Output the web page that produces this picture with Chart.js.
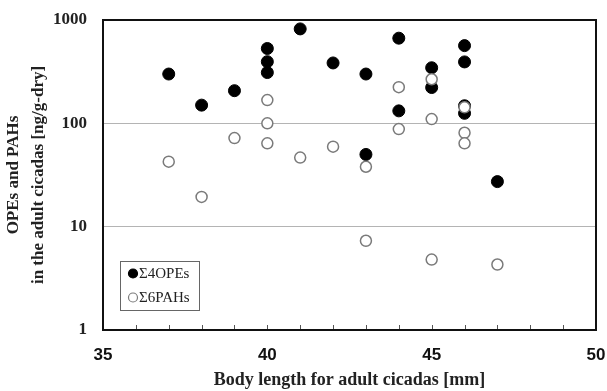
<!DOCTYPE html>
<html>
<head>
<meta charset="utf-8">
<script src="https://cdn.jsdelivr.net/npm/chart.js@4"></script>
<style>
  html, body { margin: 0; padding: 0; background: #fff; }
  #wrap { width: 607px; height: 391px; position: relative; }
</style>
</head>
<body>
<div id="wrap"><canvas id="cicadaChart"></canvas></div>
<script>
// ===== DATA: body length (mm) vs concentration (ng/g-dry) =====
const opeLengths = [37, 38, 39, 40, 40, 40, 41, 42, 43, 43, 44, 44, 45, 45, 46, 46, 46, 46, 47];
const opeValues  = [300, 150, 207, 530, 395, 310, 820, 384, 300, 50, 667, 132, 345, 222, 565, 393, 148, 125, 27.3];

const pahLengths = [37, 38, 39, 40, 40, 40, 41, 42, 43, 43, 44, 44, 45, 45, 45, 46, 46, 46, 47];
const pahValues  = [42.6, 19.4, 72, 168, 100, 64, 46.6, 59.5, 38, 7.3, 224, 88, 267, 110, 4.8, 143, 81, 64, 4.3];

const yTickLabels = [1, 10, 100, 1000];
const xTickLabels = [35, 40, 45, 50];

const seriesLabels = ["\u03A34OPEs", "\u03A36PAHs"];

const toPoints = (xs, ys) => xs.map((x, i) => ({ x: x, y: ys[i] }));

// frame around plot area + inward minor ticks on x axis
const framePlugin = {
  id: "frame",
  beforeDatasetsDraw(chart) {
    const { ctx, chartArea: a, scales } = chart;
    ctx.save();
    ctx.strokeStyle = "#555";
    ctx.lineWidth = 1;
    scales.x.ticks.forEach(t => {
      const px = Math.round(scales.x.getPixelForValue(t.value)) + 0.5;
      ctx.beginPath();
      ctx.moveTo(px, a.bottom);
      ctx.lineTo(px, a.bottom - 5);
      ctx.stroke();
    });
    ctx.strokeStyle = "#111";
    ctx.lineWidth = 2;
    ctx.strokeRect(a.left, a.top, a.right - a.left, a.bottom - a.top);
    ctx.restore();
  }
};

// boxed legend inside the lower-left of the plot
const boxLegendPlugin = {
  id: "boxLegend",
  afterDatasetsDraw(chart) {
    const { ctx, chartArea: a } = chart;
    const x0 = a.left + 17, y0 = a.bottom - 69, w = 79, h = 49;
    ctx.save();
    ctx.fillStyle = "#fff";
    ctx.fillRect(x0, y0, w, h);
    ctx.strokeStyle = "#666";
    ctx.lineWidth = 1;
    ctx.strokeRect(x0 + 0.5, y0 + 0.5, w, h);
    ctx.font = "15px 'Liberation Serif', serif";
    ctx.textBaseline = "middle";
    chart.data.datasets.forEach((ds, i) => {
      const cy = y0 + 12.5 + i * 24;
      ctx.beginPath();
      ctx.arc(x0 + 13, cy, 4.5, 0, Math.PI * 2);
      ctx.fillStyle = ds.backgroundColor;
      ctx.fill();
      ctx.strokeStyle = ds.borderColor;
      ctx.lineWidth = 1.2;
      ctx.stroke();
      ctx.fillStyle = "#222";
      ctx.fillText(ds.label, x0 + 19, cy + 1);
    });
    ctx.restore();
  }
};

const ctx = document.getElementById("cicadaChart").getContext("2d");

new Chart(ctx, {
  type: "scatter",
  data: {
    datasets: [
      {
        label: seriesLabels[0],
        data: toPoints(opeLengths, opeValues),
        backgroundColor: "#000",
        borderColor: "#000",
        borderWidth: 1,
        pointRadius: 6,
        order: 2
      },
      {
        label: seriesLabels[1],
        data: toPoints(pahLengths, pahValues),
        backgroundColor: "#fff",
        borderColor: "#7a7a7a",
        borderWidth: 1.5,
        pointRadius: 5.5,
        order: 1
      }
    ]
  },
  options: {
    responsive: true,
    maintainAspectRatio: false,
    animation: false,
    layout: { padding: { top: 20, right: 11, left: 0, bottom: 0 } },
    plugins: {
      legend: { display: false },
      tooltip: { enabled: false }
    },
    scales: {
      x: {
        type: "linear",
        min: 35,
        max: 50,
        afterFit: s => { s.height = 61; s.paddingLeft = 0; s.paddingRight = 0; },
        grid: { display: false, drawTicks: false },
        border: { display: false },
        ticks: {
          stepSize: 1,
          autoSkip: false,
          maxRotation: 0,
          padding: 15,
          color: "#111",
          font: { family: "'Liberation Sans', Arial, sans-serif", size: 17, weight: "bold" },
          callback: v => xTickLabels.includes(v) ? String(v) : ""
        },
        title: {
          display: true,
          text: "Body length for adult cicadas [mm]",
          color: "#222",
          padding: { top: 0, bottom: 0 },
          font: { family: "'Liberation Serif', serif", size: 18, weight: "bold" }
        }
      },
      y: {
        type: "logarithmic",
        min: 1,
        max: 1000,
        afterFit: s => { s.width = 103; s.paddingTop = 0; s.paddingBottom = 0; },
        border: { display: false },
        grid: {
          drawTicks: false,
          lineWidth: 1,
          color: c => (c.tick && (c.tick.value === 10 || c.tick.value === 100)) ? "#b4b4b4" : "rgba(0,0,0,0)"
        },
        ticks: {
          autoSkip: false,
          padding: 16,
          color: "#222",
          font: { family: "'Liberation Serif', serif", size: 17, weight: "bold" },
          callback: v => yTickLabels.includes(v) ? String(v) : ""
        },
        title: {
          display: true,
          text: ["OPEs and PAHs", "in the adult cicadas [ng/g-dry]"],
          color: "#222",
          padding: { top: 1, bottom: 0 },
          font: { family: "'Liberation Serif', serif", size: 17, weight: "bold", lineHeight: 1.47 }
        }
      }
    }
  },
  plugins: [framePlugin, boxLegendPlugin]
});
</script>
</body>
</html>
